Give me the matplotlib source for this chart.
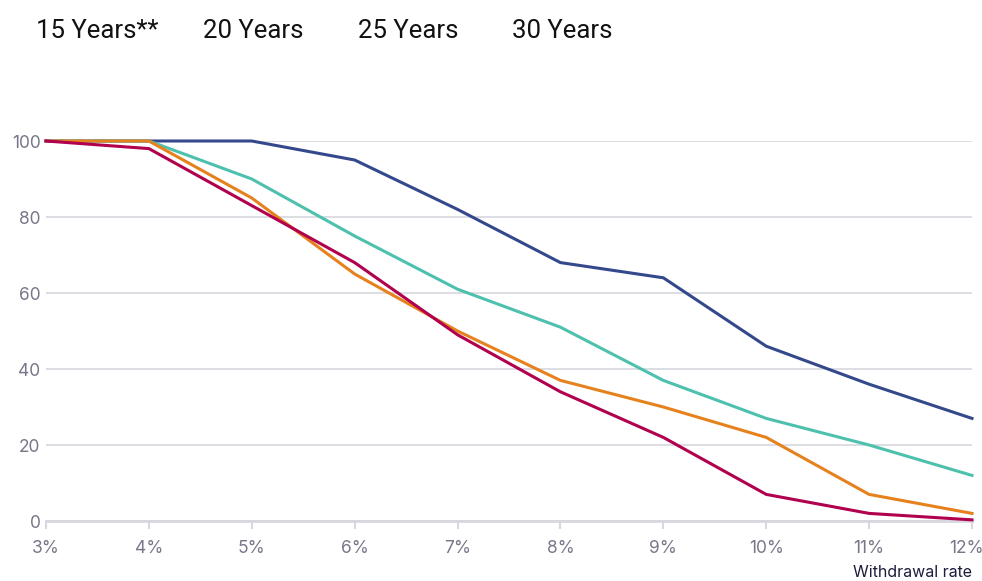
import matplotlib
matplotlib.use("Agg")
import matplotlib.pyplot as plt
from matplotlib.transforms import ScaledTranslation

# Data
rates = ["3%", "4%", "5%", "6%", "7%", "8%", "9%", "10%", "11%", "12%"]
series_names = ["15 Years**", "20 Years", "25 Years", "30 Years"]
years_15 = [100, 100, 100, 95, 82, 68, 64, 46, 36, 27]
years_20 = [100, 100, 90, 75, 61, 51, 37, 27, 20, 12]
years_25 = [100, 100, 85, 65, 50, 37, 30, 22, 7, 2]
years_30 = [100, 98, 83, 68, 49, 34, 22, 7, 2, 0.3]
yticks = [0, 20, 40, 60, 80, 100]

colors = ["#34488c", "#4ec0ae", "#e6821e", "#b0004e"]
grid_col = "#d7d7df"
tick_col = "#77778a"

plt.rcParams["font.family"] = ["Inter", "DejaVu Sans"]

fig = plt.figure(figsize=(9.82, 5.81), dpi=100)
ax = fig.add_axes([46 / 982, 1 - 521 / 581, (972 - 46) / 982, (521 - 141) / 581])

x = list(range(len(rates)))
for vals, c in zip([years_15, years_20, years_25, years_30], colors):
    ax.plot(x, vals, color=c, linewidth=2.2, clip_on=False, zorder=3,
            solid_joinstyle="miter")

ax.set_xlim(0, len(rates) - 1)
ax.set_ylim(0, 100)
ax.set_xticks(x)
ax.set_xticklabels(rates)
ax.set_yticks(yticks)
ax.set_yticklabels([str(v) for v in yticks])

# Grid and spines
ax.grid(axis="y", color=grid_col, linewidth=1.2, zorder=0)
for s in ["top", "right", "left"]:
    ax.spines[s].set_visible(False)
ax.spines["bottom"].set_color(grid_col)
ax.spines["bottom"].set_linewidth(2)
ax.tick_params(axis="x", colors=grid_col, length=6, width=1.5, pad=8,
               labelcolor=tick_col, labelsize=12.5)
ax.tick_params(axis="y", length=0, pad=4, labelcolor=tick_col, labelsize=12.5)

# keep the last tick label inside the canvas
last = ax.get_xticklabels()[-1]
last.set_transform(last.get_transform() + ScaledTranslation(-6 / 100, 0, fig.dpi_scale_trans))

fig.text(972 / 982, 1 - 577 / 581, "Withdrawal rate", ha="right", va="baseline",
         fontsize=11.5, color="#1c1c3c")

# Legend labels along the top
legend_x = [36, 203, 358, 512]
for name, lx in zip(series_names, legend_x):
    fig.text(lx / 982, 1 - 38 / 581, name, ha="left", va="baseline",
             fontsize=18.5, color="#111111", family=["Roboto", "DejaVu Sans"])

plt.savefig("out.png", dpi=100)
plt.close()
